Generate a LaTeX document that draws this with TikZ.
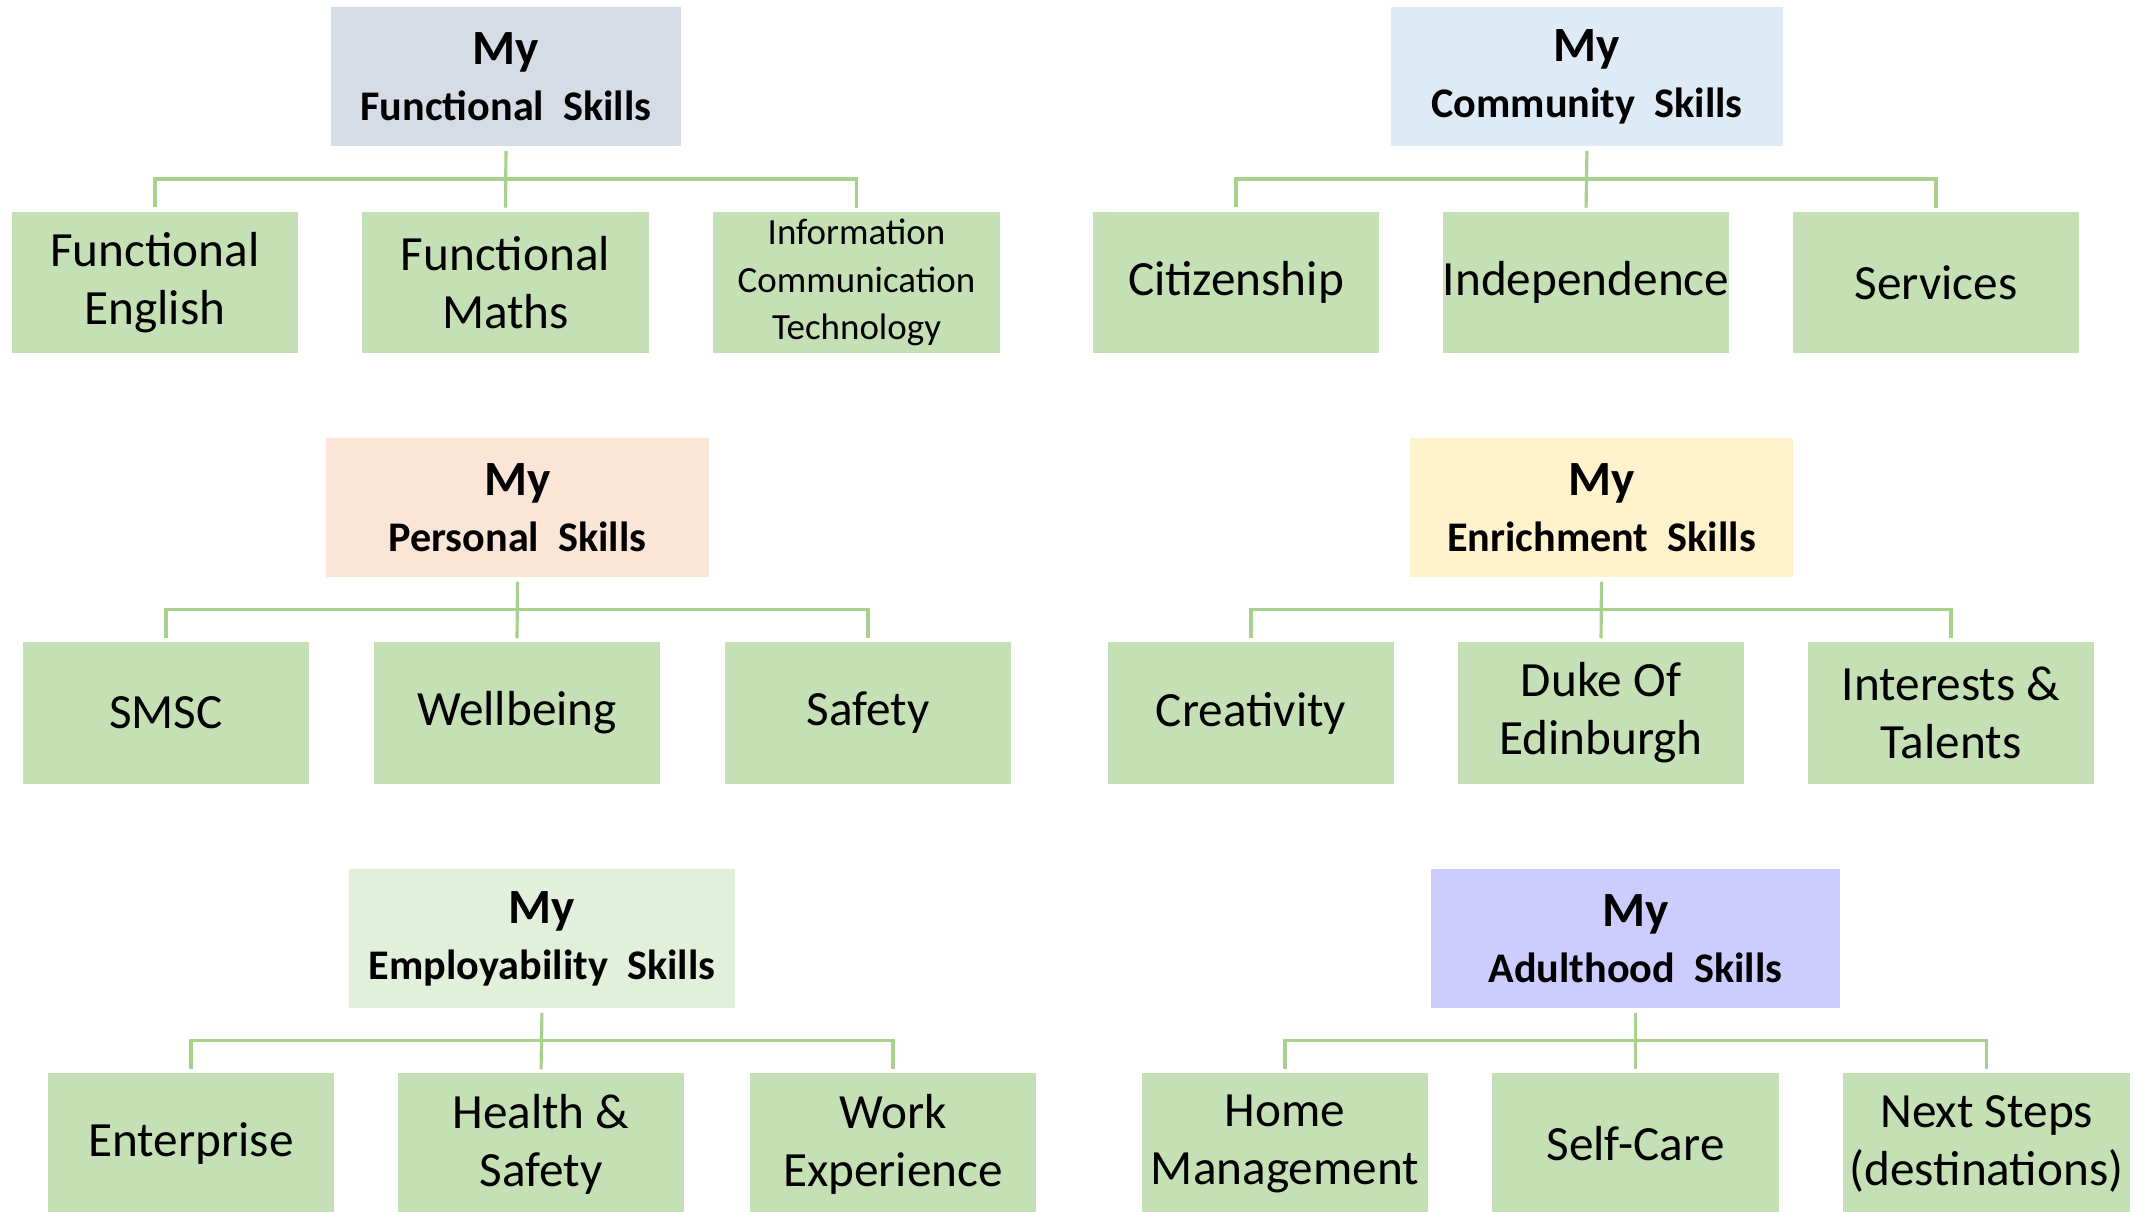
\documentclass[tikz,border=0pt]{standalone}
\usepackage{fontspec}
\setmainfont{Carlito}
\usetikzlibrary{calc}

\definecolor{leafgreen}{HTML}{C5E0B4}
\definecolor{linkgreen}{HTML}{A9D18E}
\definecolor{funcgrey}{HTML}{D6DCE5}
\definecolor{commblue}{HTML}{DEEBF7}
\definecolor{perspeach}{HTML}{FBE5D6}
\definecolor{enrichyellow}{HTML}{FFF2CC}
\definecolor{employgreen}{HTML}{E2EFDA}
\definecolor{adultlilac}{HTML}{CCCCFF}

\tikzset{
  head/.style={fill=#1, minimum height=1.39cm, inner sep=0pt, align=center},
  leaf/.style={fill=leafgreen, minimum width=2.86cm, minimum height=1.41cm, inner sep=0pt,
    align=center, font=\fontsize{14}{16.5}\selectfont},
  link/.style={draw=linkgreen, line width=0.9pt, shorten <=1.2pt, shorten >=1pt}
}
\newcommand{\headtext}[1]{{\fontsize{14}{15}\bfseries\selectfont My}\\[4pt]{\fontsize{12}{14}\bfseries\selectfont #1}}

\begin{document}
\begin{tikzpicture}[x=0.01cm, y=-0.01cm]

  \useasboundingbox (0,0) rectangle (2145,1212);

  % functional
  \node[head=funcgrey, minimum width=3.5cm] (fh) at (506,76.5) {\headtext{Functional\ \ Skills}};
  \node[leaf] (fe) at (155,282.5) {Functional\\English};
  \node[leaf] (fm) at (505.5,282.5) {Functional\\Maths};
  \node[leaf, font=\fontsize{10.5}{13.6}\selectfont] (fi) at (856.5,282.5) {Information\\Communication\\Technology};

  % community
  \node[head=commblue, minimum width=3.92cm] (ch) at (1587,76.5) {\headtext{Community\ \ Skills}};
  \node[leaf] (cc) at (1236,282.5) {Citizenship};
  \node[leaf] (ci) at (1586,282.5) {Independence};
  \node[leaf] (cs) at (1936,282.5) {Services};

  % personal
  \node[head=perspeach, minimum width=3.83cm] (ph) at (517.5,507.5) {\headtext{Personal\ \ Skills}};
  \node[leaf] (ps) at (166,713) {SMSC};
  \node[leaf] (pw) at (517,713) {Wellbeing};
  \node[leaf] (pf) at (868,713) {Safety};

  % enrichment
  \node[head=enrichyellow, minimum width=3.83cm] (eh) at (1601.5,507.5) {\headtext{Enrichment\ \ Skills}};
  \node[leaf] (ec) at (1251,713) {Creativity};
  \node[leaf] (ed) at (1601,713) {Duke Of\\Edinburgh};
  \node[leaf] (ei) at (1951,713) {Interests \&\\Talents};

  % employability
  \node[head=employgreen, minimum width=3.86cm] (yh) at (542,938.5) {\headtext{Employability\ \ Skills}};
  \node[leaf] (ye) at (191,1144) {Enterprise};
  \node[leaf] (ys) at (541,1144) {Health \&\\Safety};
  \node[leaf] (yw) at (893,1144) {Work\\Experience};

  % adulthood
  \node[head=adultlilac, minimum width=4.09cm] (ah) at (1635.5,938.5) {\headtext{Adulthood\ \ Skills}};
  \node[leaf] (am) at (1285,1144) {Home\\Management};
  \node[leaf] (ac) at (1635.5,1144) {Self-Care};
  \node[leaf] (an) at (1986.5,1144) {Next Steps\\(destinations)};

  % connectors
  \coordinate (fbus) at ($(fh.south)!.5!(fm.north)$);
  \draw[link] (fh.south) -- (fm.north);
  \draw[link] (fe.north) |- (fbus) -| (fi.north);

  \coordinate (cbus) at ($(ch.south)!.5!(ci.north)$);
  \draw[link] (ch.south) -- (ci.north);
  \draw[link] (cc.north) |- (cbus) -| (cs.north);

  \coordinate (pbus) at ($(ph.south)!.5!(pw.north)$);
  \draw[link] (ph.south) -- (pw.north);
  \draw[link] (ps.north) |- (pbus) -| (pf.north);

  \coordinate (ebus) at ($(eh.south)!.5!(ed.north)$);
  \draw[link] (eh.south) -- (ed.north);
  \draw[link] (ec.north) |- (ebus) -| (ei.north);

  \coordinate (ybus) at ($(yh.south)!.5!(ys.north)$);
  \draw[link] (yh.south) -- (ys.north);
  \draw[link] (ye.north) |- (ybus) -| (yw.north);

  \coordinate (abus) at ($(ah.south)!.5!(ac.north)$);
  \draw[link] (ah.south) -- (ac.north);
  \draw[link] (am.north) |- (abus) -| (an.north);

\end{tikzpicture}
\end{document}
